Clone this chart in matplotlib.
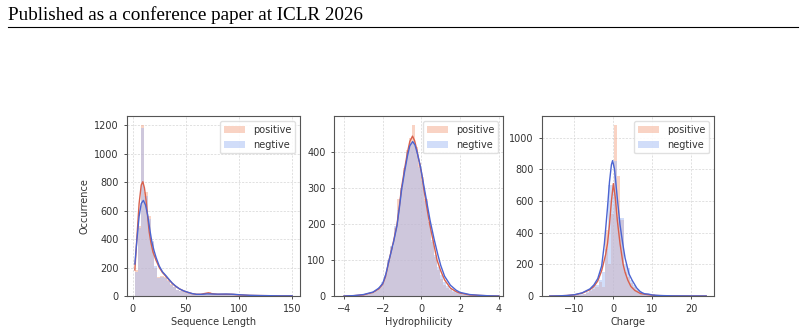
import numpy as np
import matplotlib.pyplot as plt
from matplotlib.patches import Patch

# ---- data ----
# Sequence length: histogram bins (width 3, from 2) and KDE curves
len_edges = np.arange(2, 153, 3)
len_pos = [180, 490, 1200, 730, 560, 380, 200, 135, 140, 135, 110, 85, 60, 45, 32, 28, 20, 14, 10, 8,
           9, 12, 22, 25, 14, 10, 9, 10, 11, 12, 11, 9, 7, 5, 4, 4, 3, 3, 3, 2,
           2, 2, 2, 1, 1, 1, 1, 1, 1, 1]
len_neg = [170, 480, 1180, 700, 540, 390, 210, 130, 135, 130, 105, 80, 60, 45, 35, 28, 20, 15, 12, 12,
           12, 12, 15, 16, 14, 13, 13, 14, 14, 14, 13, 11, 9, 7, 5, 4, 4, 3, 3, 2,
           2, 2, 2, 1, 1, 1, 1, 1, 1, 1]
len_kde_x_pos = [2, 4, 6, 8, 9.5, 11, 12.5, 14, 15.5, 17, 19, 22, 25, 28, 31, 34, 37, 40, 44, 48,
                 52, 56, 60, 64, 68, 71, 75, 80, 87, 93, 100, 110, 120, 130, 140, 150]
len_kde_pos = [183, 420, 650, 780, 803, 760, 675, 560, 450, 380, 310, 250, 200, 165, 140, 115, 90, 70, 50, 35,
               25, 16, 12, 12, 18, 22, 16, 12, 12, 12, 8, 4, 3, 2, 1, 1]
len_kde_x_neg = [2, 4, 6, 8, 10, 12, 14, 16, 18, 20, 22, 25, 28, 31, 34, 37, 40, 44, 48,
                 52, 56, 60, 65, 70, 75, 80, 88, 95, 100, 110, 120, 130, 140, 150]
len_kde_neg = [225, 400, 560, 650, 672, 640, 570, 470, 380, 320, 270, 210, 170, 145, 118, 92, 72, 50, 36,
               26, 17, 12, 12, 15, 14, 13, 14, 12, 9, 5, 3, 2, 1, 1]

# Hydrophilicity
hyd_edges = np.linspace(-4, 4, 51)
hyd_pos = [0, 0, 1, 1, 1, 2, 3, 4, 6, 9, 14, 22, 33, 55, 98, 135, 190, 270, 300, 355,
           405, 440, 475, 415, 370, 330, 270, 205, 150, 108, 72, 48, 32, 22, 16, 11, 8, 6, 4, 3,
           2, 2, 1, 1, 1, 0, 0, 0, 0, 0]
hyd_neg = [0, 0, 1, 1, 2, 2, 3, 5, 7, 10, 16, 25, 38, 58, 100, 140, 195, 240, 300, 350,
           400, 425, 430, 410, 360, 320, 265, 205, 155, 115, 82, 58, 40, 28, 20, 14, 10, 7, 5, 4,
           3, 2, 2, 1, 1, 1, 0, 0, 0, 0]
hyd_kde_x_pos = [-4, -3.5, -3, -2.5, -2.2, -2, -1.85, -1.67, -1.45, -1.26, -1.14, -1.03, -0.88, -0.72,
                 -0.6, -0.46, -0.35, -0.25, -0.1, 0, 0.12, 0.27, 0.43, 0.62, 0.81, 1.0, 1.2, 1.5,
                 1.8, 2.0, 2.5, 3, 3.5, 4]
hyd_kde_pos = [0, 1, 3, 10, 20, 33, 55, 100, 150, 200, 250, 300, 350, 400,
               430, 445, 432, 410, 370, 345, 300, 250, 200, 150, 100, 70, 45, 22,
               12, 8, 3, 1.5, 0.5, 0]
hyd_kde_x_neg = [-4, -3.5, -3, -2.5, -2.2, -2, -1.85, -1.67, -1.45, -1.26, -1.14, -1.03, -0.88, -0.72,
                 -0.6, -0.45, -0.33, -0.2, -0.05, 0.1, 0.25, 0.45, 0.65, 0.85, 1.0, 1.2, 1.5,
                 1.8, 2.0, 2.5, 3, 3.5, 4]
hyd_kde_neg = [0, 1, 4, 11, 22, 35, 58, 100, 148, 196, 245, 293, 343, 390,
               418, 430, 420, 395, 360, 315, 270, 210, 160, 115, 85, 55, 30,
               16, 10, 4, 2, 0.5, 0]

# Charge
chg_edges = np.arange(-16.6, 24.3, 0.8)
chg_pos = [0, 0, 1, 1, 1, 2, 2, 3, 4, 6, 8, 12, 20, 30, 45, 60, 90, 60, 420, 200,
           520, 1080, 760, 480, 150, 120, 80, 55, 35, 20, 12, 8, 8, 5, 3, 2, 2, 1, 1, 1,
           1, 0, 0, 0, 0, 0, 0, 0, 0, 0, 0]
chg_neg = [0, 0, 1, 1, 1, 2, 3, 4, 5, 7, 10, 15, 25, 35, 55, 70, 100, 150, 300, 700,
           700, 850, 500, 490, 200, 180, 100, 70, 45, 30, 20, 14, 14, 10, 6, 4, 3, 2, 1, 1,
           1, 1, 0, 0, 0, 0, 0, 0, 0, 0, 0]
chg_kde_x_pos = [-16.3, -14, -12, -10, -8, -6, -5, -4, -3, -2, -1.5, -1, -0.5, 0, 0.5, 1, 1.7,
                 2.5, 3, 3.7, 4.5, 5.5, 7, 9, 11, 14, 18, 23.8]
chg_kde_pos = [0, 1, 3, 7, 18, 40, 60, 95, 160, 260, 332, 450, 600, 710, 620, 480, 332,
               200, 150, 100, 60, 35, 15, 8, 3, 1, 0.3, 0]
chg_kde_x_neg = [-16.3, -14, -12, -10, -8, -6, -5, -4, -3, -2.3, -1.5, -1, -0.5, -0.2, 0.3, 1, 1.7,
                 2.4, 3, 4, 4.8, 6, 7, 8, 9, 10, 12, 15, 20, 23.8]
chg_kde_neg = [0, 1, 3, 8, 20, 45, 70, 110, 190, 332, 560, 720, 830, 855, 800, 620, 450,
               332, 240, 140, 100, 50, 25, 14, 12, 6, 3, 1, 0.3, 0]

# ---- style ----
pos_bar, neg_bar = "#f5a88a", "#a4bdf5"
pos_line, neg_line = "#d9604c", "#4b64d2"
txt = "#333333"

plt.rcParams["font.family"] = "DejaVu Sans"
fig = plt.figure(figsize=(8.04, 3.27), dpi=100)

fig.text(8 / 804, 1 - 15 / 327, "Published as a conference paper at ICLR 2026",
         family="Liberation Serif", fontsize=13.8, va="center", ha="left", color="black")
fig.add_artist(plt.Line2D([8 / 804, 798 / 804], [1 - 27 / 327, 1 - 27 / 327],
                          color="black", lw=0.8))

panels = [
    ([127, 300], len_edges, len_pos, len_neg, len_kde_x_pos, len_kde_pos, len_kde_x_neg, len_kde_neg,
     "Sequence Length", (-5.4, 157.4), (0, 1265), [0, 50, 100, 150], [0, 200, 400, 600, 800, 1000, 1200]),
    ([334, 503], hyd_edges, hyd_pos, hyd_neg, hyd_kde_x_pos, hyd_kde_pos, hyd_kde_x_neg, hyd_kde_neg,
     "Hydrophilicity", (-4.52, 4.22), (0, 501), [-4, -2, 0, 2, 4], [0, 100, 200, 300, 400]),
    ([542, 714], chg_edges, chg_pos, chg_neg, chg_kde_x_pos, chg_kde_pos, chg_kde_x_neg, chg_kde_neg,
     "Charge", (-18.3, 25.8), (0, 1137), [-10, 0, 10, 20], [0, 200, 400, 600, 800, 1000]),
]

for i, (px, edges, pos, neg, kxp, kp, kxn, kn, xlab, xl, yl, xt, yt) in enumerate(panels):
    ax = fig.add_axes([px[0] / 804, 31 / 327, (px[1] - px[0]) / 804, 180 / 327])
    w = np.diff(edges)
    ax.bar(edges[:-1], pos, width=w, align="edge", color=pos_bar, alpha=0.5, lw=0, zorder=2)
    ax.bar(edges[:-1], neg, width=w, align="edge", color=neg_bar, alpha=0.5, lw=0, zorder=2)
    ax.plot(kxp, kp, color=pos_line, lw=1.0, zorder=3)
    ax.plot(kxn, kn, color=neg_line, lw=1.0, zorder=3)
    ax.set_xlim(xl)
    ax.set_ylim(yl)
    ax.set_xticks(xt)
    ax.set_yticks(yt)
    ax.grid(True, ls=(0, (3, 2)), lw=0.5, color="#d4d4d4", zorder=0)
    ax.set_axisbelow(True)
    ax.tick_params(labelsize=7, colors=txt, length=2.5, width=0.6)
    for s in ax.spines.values():
        s.set_color("#555555")
        s.set_linewidth(0.8)
    ax.set_xlabel(xlab, fontsize=7, color=txt, labelpad=2)
    if i == 0:
        ax.set_ylabel("Occurrence", fontsize=7, color=txt, labelpad=3)
    handles = [Patch(facecolor=pos_bar, alpha=0.5, label="positive"),
               Patch(facecolor=neg_bar, alpha=0.5, label="negtive")]
    ax.legend(handles=handles, loc="upper right", fontsize=7, frameon=True,
              edgecolor="#dddddd", framealpha=0.9, handlelength=2.2, borderpad=0.4,
              labelcolor=txt)

fig.savefig("out.png", dpi=100)
